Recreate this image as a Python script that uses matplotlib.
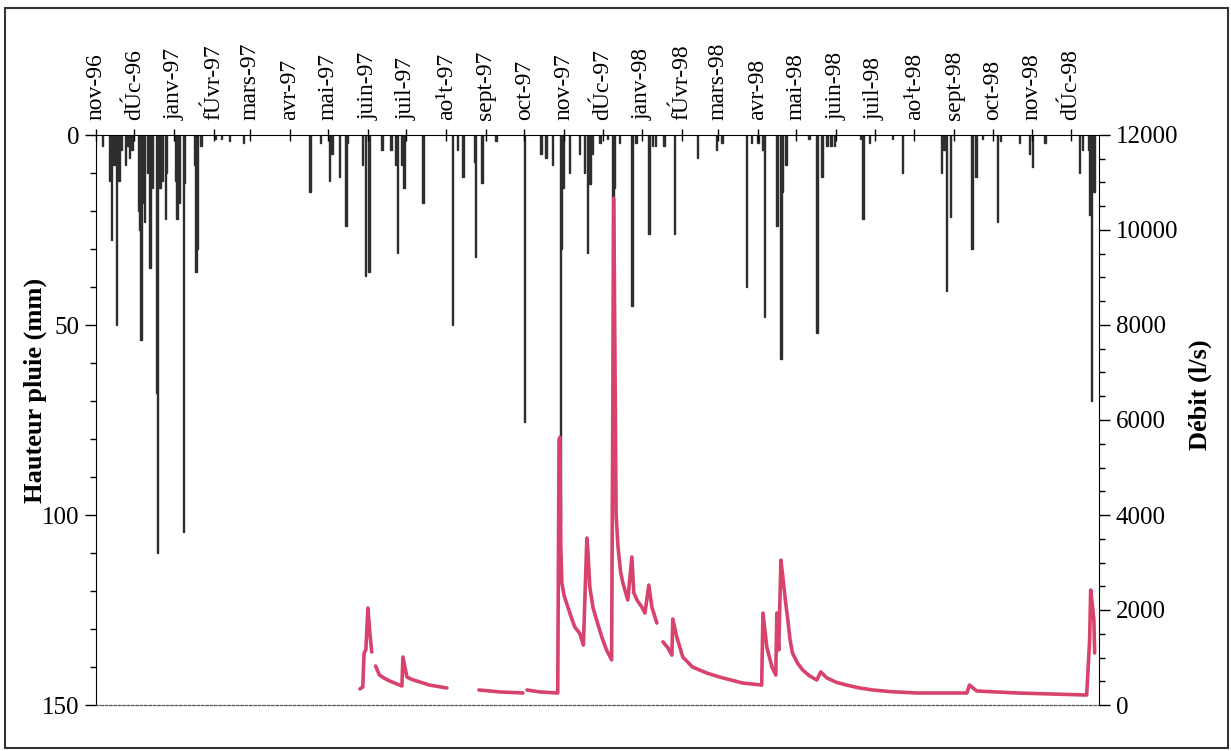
import matplotlib
matplotlib.use('Agg')
import matplotlib.pyplot as plt
import matplotlib.dates as mdates
from matplotlib.ticker import MultipleLocator
from matplotlib.patches import Rectangle
import numpy as np
import pandas as pd

plt.rcParams['font.family'] = ['Liberation Serif', 'DejaVu Serif']

# -------------------------------------------------------------------------------------
# Data (jour = days since 1 Nov 1996)
# -------------------------------------------------------------------------------------
debut = '1996-11-01'

rain_jour = [5, 11, 12, 14, 16, 18, 20, 23, 25, 26, 28, 33, 34, 35, 37, 38, 40, 42, 44, 47,
             48, 50, 52, 54, 55, 62, 63, 65, 68, 69, 77, 78, 79, 82, 93, 98, 104, 115, 167, 175,
             182, 184, 190, 195, 196, 208, 210, 213, 223, 230, 234, 235, 238, 240, 255, 278, 282, 286, 295, 296,
             301, 312, 334, 347, 351, 356, 362, 363, 364, 369, 377, 381, 383, 385, 387, 393, 399, 403, 404, 408,
             418, 421, 431, 434, 436, 443, 451, 469, 484, 488, 507, 511, 516, 520, 521, 531, 534, 535, 538, 556,
             562, 566, 570, 573, 576, 596, 598, 603, 621, 629, 659, 661, 663, 666, 683, 686, 691, 703, 705, 720,
             728, 730, 740, 767, 769, 774, 775, 776, 778]
rain_mm = [3, 12, 27.5, 8, 50, 12, 4, 8, 3, 6, 4, 20, 25, 54, 18, 23, 10, 35, 14, 68,
           110, 14, 12, 22, 10, 12, 22, 18, 104.5, 12.6, 8, 36, 30, 3, 1, 1, 1.5, 2, 15, 2,
           12, 5, 11, 24, 2, 8, 37, 36, 4, 4, 8, 31, 8, 14, 18, 50, 4, 11, 7, 32,
           12.6, 1.5, 75.5, 5, 6, 8, 102, 30, 14, 10, 5, 10, 31, 13, 5, 2, 1, 86, 14, 2,
           45, 2, 26, 3, 3, 3, 26, 6, 4, 2, 40, 2, 2, 4, 48, 24, 59, 15, 8, 1,
           52, 11, 3, 3, 3, 1, 22, 2, 1, 10, 10, 4, 41, 21.5, 30, 11, 1, 23, 1.5, 2,
           5, 8.5, 2, 10, 4, 4, 21, 70, 15]

nan = np.nan
debit_jour = [205.8, 208, 209, 210.4, 212, 213.5, 215, 216.5,
              218, 221, 225, 229, 234, 238.5, 239.3, 242.4, 246, 250, 260, 273.6, 285,
              298.5, 315, 332.8, 334.5,
              336, 346, 360, 361, 361.7, 362.4, 363.2, 365, 367.9, 370.5, 373.3, 377, 380,
              382.7, 383.5, 385, 387.5, 391, 394.5, 398, 402,
              403.7, 405.5, 407, 409, 410.8, 414.6, 417.8, 419.3, 422, 425.6, 428, 431, 433.4, 437.3, 439.5,
              442, 446, 449, 449.7, 452.8, 457.5, 465, 476, 486, 504, 519,
              520, 523, 527, 530, 530.8, 532.3, 534, 535.5, 537.5, 539.4, 541, 543, 547, 551, 556, 562,
              565, 570, 577, 585, 595, 605.6, 620, 640,
              679, 681, 686.7, 718, 772.4, 774.7, 775.5, 777, 778, 778.6]
debit_ls = [337, 380, 1095, 1160, 2040, 1515, 1115, nan,
            820, 630, 560, 505, 450, 400, 1010, 590, 540, 505, 420, 358, nan,
            316, 275, 253, nan,
            316, 275, 253, 5580, 5640, 3325, 2570, 2300, 2060, 1850, 1640, 1515, 1260,
            3515, 3260, 2485, 2050, 1725, 1420, 1160, 950,
            10670, 4000, 3325, 2800, 2570, 2210, 3115, 2360, 2200, 2060, 1935, 2525, 2060, 1725, nan,
            1330, 1200, 1050, 1810, 1430, 1010, 800, 675, 590, 463, 420,
            1935, 1220, 800, 630, 1935, 1160, 3050, 2695, 2200, 1790, 1400, 1095, 880, 737, 620, 526,
            695, 568, 480, 421, 360, 316, 280, 253,
            253, 421, 295, 253, 210, 1370, 2420, 2060, 1790, 1095]

mois = ['nov-96', 'dÚc-96', 'janv-97', 'fÚvr-97', 'mars-97', 'avr-97', 'mai-97', 'juin-97',
        'juil-97', 'ao¹t-97', 'sept-97', 'oct-97', 'nov-97', 'dÚc-97', 'janv-98', 'fÚvr-98',
        'mars-98', 'avr-98', 'mai-98', 'juin-98', 'juil-98', 'ao¹t-98', 'sept-98', 'oct-98',
        'nov-98', 'dÚc-98']

# -------------------------------------------------------------------------------------
# Plot
# -------------------------------------------------------------------------------------
x0 = mdates.datestr2num(debut)
mois_pos = mdates.date2num(pd.date_range(debut, periods=len(mois), freq='MS').to_pydatetime())

fig = plt.figure(figsize=(12.31, 7.51), dpi=100)
ax1 = fig.add_axes([96/1231, 1-705/751, (1099-96)/1231, (705-135)/751])

ax1.bar(x0 + np.array(rain_jour), rain_mm, width=1.1, align='center',
        color='#2e2e2e', edgecolor='#2e2e2e', linewidth=1.0)
ax1.set_xlim(x0, x0 + 782)
ax1.set_ylim(150, 0)
ax1.set_yticks([0, 50, 100, 150])
ax1.yaxis.set_minor_locator(MultipleLocator(10))
ax1.tick_params(axis='y', which='major', direction='out', length=8, width=1, labelsize=18, pad=4)
ax1.tick_params(axis='y', which='minor', direction='out', length=4, width=1)

ax1.xaxis.tick_top()
ax1.set_xticks(mois_pos)
ax1.set_xticklabels(mois)
ax1.tick_params(axis='x', which='major', direction='inout', length=9, width=1,
                labelsize=17, labelrotation=90, pad=6)

ax1.spines['bottom'].set_linestyle((0, (2, 1.5)))
ax1.spines['bottom'].set_linewidth(0.9)
ax1.spines['bottom'].set_color('#555555')
ax1.spines['right'].set_visible(False)

ax2 = ax1.twinx()
ax2.plot(x0 + np.array(debit_jour), debit_ls, color='#d8436d', linewidth=2.6,
         solid_joinstyle='round', solid_capstyle='round')
ax2.set_ylim(0, 12000)
ax2.set_yticks(np.arange(0, 12001, 2000))
ax2.yaxis.set_minor_locator(MultipleLocator(500))
ax2.tick_params(axis='y', which='major', direction='out', length=8, width=1, labelsize=18, pad=4)
ax2.tick_params(axis='y', which='minor', direction='out', length=4, width=1)
ax2.spines['bottom'].set_visible(False)
ax2.spines['top'].set_visible(False)
ax2.spines['left'].set_visible(False)

fig.text(35/1231, 1-390/751, 'Hauteur pluie (mm)', rotation=90, ha='center', va='center',
         fontsize=19, fontweight='bold')
fig.text(1200/1231, 1-395/751, 'Débit (l/s)', rotation=90, ha='center', va='center',
         fontsize=19, fontweight='bold')

fig.add_artist(Rectangle((0.004, 0.004), 0.9935, 0.985, transform=fig.transFigure,
                         fill=False, edgecolor='#333333', linewidth=1.5))

fig.savefig('out.png', dpi=100)
